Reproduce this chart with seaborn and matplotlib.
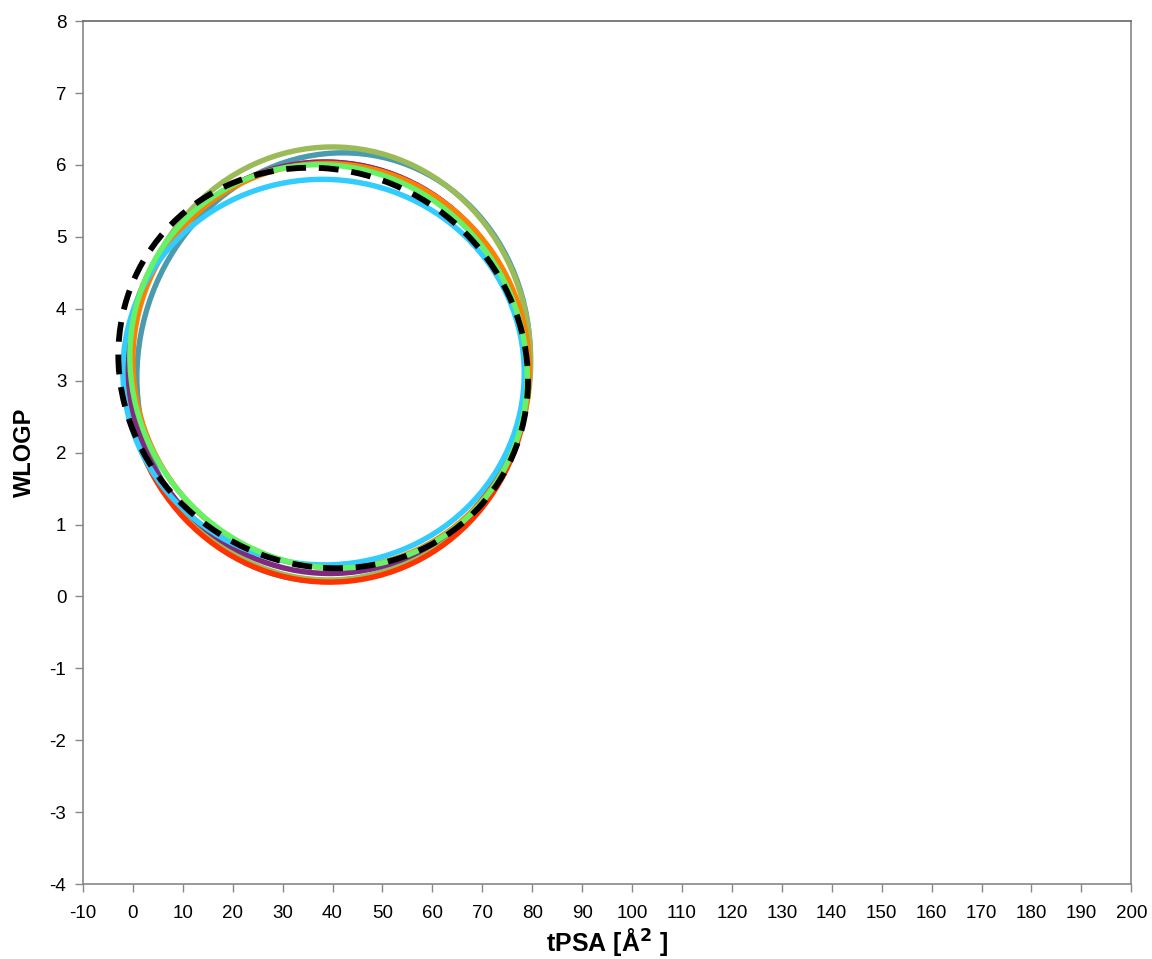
import matplotlib
matplotlib.use("Agg")
import matplotlib.pyplot as plt
from matplotlib.patches import Ellipse
import seaborn as sns

# ellipse fits (tPSA centre, WLOGP centre, full width, full height, tilt in degrees)
names = ["teal", "olive", "red", "purple", "orange", "light blue", "green", "BOILED-Egg yolk"]
center_x = [40.2, 39.6, 38.9, 39.0, 39.7, 38.2, 39.2, 38.117]
center_y = [3.19, 3.24, 3.12, 3.18, 3.21, 3.12, 3.20, 3.177]
widths = [78.8, 80.2, 80.6, 80.0, 79.4, 80.4, 79.6, 82.061]
heights = [5.95, 6.02, 5.84, 5.72, 5.62, 5.36, 5.60, 5.557]
angles = [0.21, 0.04, -0.05, -0.05, -0.10, -0.02, -0.20, -0.250017]
colors = ["#4A9BAE", "#9BBB59", "#FF3300", "#7F2A7F", "#FF7F00", "#33CCFF", "#66F266", "black"]
styles = ["-", "-", "-", "-", "-", "-", "-", "--"]

x_ticks = list(range(-10, 201, 10))
y_ticks = list(range(-4, 9, 1))

sns.set_style("white")
plt.rcParams['font.family'] = ['Liberation Sans', 'DejaVu Sans']
plt.rcParams['axes.unicode_minus'] = False
plt.rcParams['text.color'] = 'black'
plt.rcParams['axes.labelcolor'] = 'black'
plt.rcParams['xtick.color'] = 'black'
plt.rcParams['ytick.color'] = 'black'

fig = plt.figure(figsize=(11.52, 9.59), dpi=100)
ax = fig.add_axes([0.072, 0.078, 0.910, 0.900])

for i in range(len(names)):
    e = Ellipse((center_x[i], center_y[i]), widths[i], heights[i], angle=angles[i],
                fill=False, edgecolor=colors[i],
                linewidth=4.2 if styles[i] == "--" else 3.9, zorder=2 + i)
    if styles[i] == "--":
        e.set_linestyle((0, (3.4, 2.2)))
    ax.add_patch(e)

ax.set_xlim(-10, 200)
ax.set_ylim(-4, 8)
ax.set_xticks(x_ticks)
ax.set_yticks(y_ticks)
ax.tick_params(axis='both', which='major', direction='out', length=6, width=1,
               bottom=True, left=True, labelsize=13.5, color='#888888')
ax.tick_params(axis='x', pad=9)
ax.tick_params(axis='y', pad=6)
for s in ax.spines.values():
    s.set_color('#888888')
    s.set_linewidth(1.2)
ax.spines['top'].set_color('#666666')

ax.set_xlabel("tPSA [Å$^{\\mathbf{2}}$ ]", fontsize=18, fontweight='bold')
ax.xaxis.label.set_verticalalignment('center')
ax.xaxis.set_label_coords(0.5, -0.067)
ax.set_ylabel("WLOGP", fontsize=17, fontweight='bold', labelpad=10)

fig.savefig("out.png", dpi=100)
